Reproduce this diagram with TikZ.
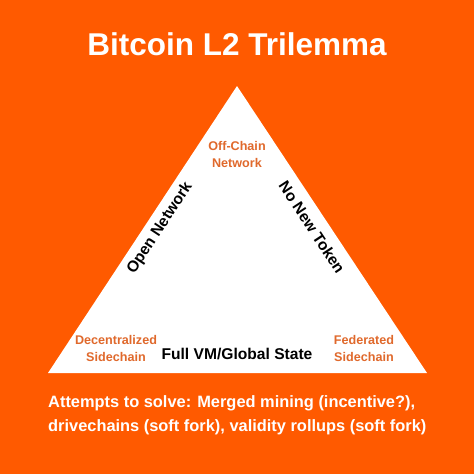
\documentclass[tikz,border=0pt]{standalone}
\usepackage{fontspec}
\setmainfont{Liberation Sans}
\definecolor{bgorange}{HTML}{FF5A00}
\definecolor{txtorange}{HTML}{E0692C}
\begin{document}
\begin{tikzpicture}[x=1pt,y=-1pt,
  title/.style={font=\bfseries\fontsize{31.5}{36}\selectfont,text=white,anchor=base,inner sep=0pt},
  corner/.style={font=\bfseries\fontsize{12.6}{16.5}\selectfont,text=txtorange,align=center,inner sep=0pt},
  edge/.style={font=\bfseries\fontsize{15.6}{18}\selectfont,text=black,inner sep=0pt},
  note/.style={font=\bfseries\fontsize{16.4}{24}\selectfont,text=white,align=left,inner sep=0pt,anchor=base west}]
\fill[bgorange] (0,0) rectangle (474,474);
\useasboundingbox (0,0) rectangle (474,474);
\coordinate (top) at (237,86);
\coordinate (bl) at (48,373);
\coordinate (br) at (427,373);
\fill[white] (top) -- (bl) -- (br) -- cycle;
\node[title] (t) at (237,55) {Bitcoin L2 Trilemma};
\node[corner,anchor=base] (offchain) at (237,167) {Off-Chain\\Network};
\node[corner,anchor=base] (decentral) at (116,361) {Decentralized\\Sidechain};
\node[corner,anchor=base] (federated) at (364,361) {Federated\\Sidechain};
\node[edge,anchor=base] (fullvm) at (237,359) {Full VM/Global State};
\node[edge,rotate=56.6] (open) at (160,228) {Open Network};
\node[edge,rotate=-56.6] (nonew) at (312,227) {No New Token};
\node[note] (attempts) at (48,431) {Attempts to solve: Merged mining (incentive?),\\drivechains (soft fork), validity rollups (soft fork)};
\end{tikzpicture}
\end{document}
